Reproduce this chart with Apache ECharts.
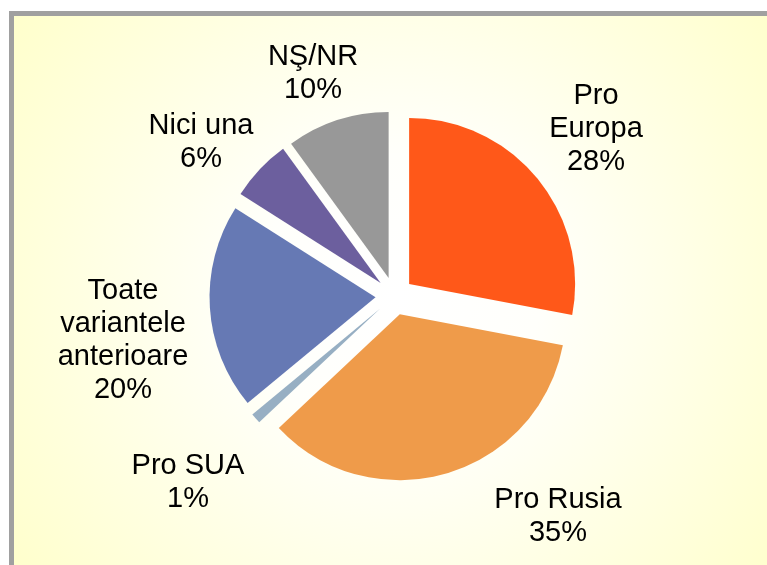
<!DOCTYPE html>
<html>
<head>
<meta charset="utf-8">
<script src="https://cdn.jsdelivr.net/npm/echarts@6/dist/echarts.min.js"></script>
<style>
  html, body { margin: 0; padding: 0; background: #fff; }
  #chart { width: 767px; height: 565px; }
</style>
</head>
<body>
<div id="chart"></div>
<script>
// categories and shares (%) in drawing order, clockwise from 12 o'clock
const categories = ['Pro\nEuropa', 'Pro Rusia', 'Pro SUA', 'Toate\nvariantele\nanterioare', 'Nici una', 'NŞ/NR'];
const shares = [28, 35, 1, 20, 6, 10];
const colors = ['#FF5819', '#EF9B4A', '#97AFC3', '#6679B4', '#6C5F9E', '#989898'];

// where each label block sits (centre, px)
const labelSpots = [[596, 129], [558, 516], [188, 482], [123, 340], [201, 142], [313, 73]];

const chart = echarts.init(document.getElementById('chart'));

// labels as text placed next to their slice
const labelTexts = categories.map((name, i) => ({
    type: 'text',
    silent: true,
    z: 10,
    style: {
        x: labelSpots[i][0],
        y: labelSpots[i][1],
        text: name + '\n' + shares[i] + '%',
        fill: '#000',
        font: '29px "Liberation Sans", Arial, sans-serif',
        lineHeight: 33,
        textAlign: 'center',
        textVerticalAlign: 'middle'
    }
}));

const option = {
    animation: false,
    backgroundColor: '#fff',
    graphic: [
        {
            type: 'rect',
            shape: { x: 9, y: 11, width: 780, height: 580 },
            style: { fill: '#A0A0A0' },
            silent: true,
            z: -10
        },
        {
            type: 'rect',
            shape: { x: 14, y: 16, width: 753, height: 549 },
            style: {
                fill: {
                    type: 'radial',
                    x: 0.51,
                    y: 0.51,
                    r: 0.86,
                    colorStops: [
                        { offset: 0, color: '#FFFFFF' },
                        { offset: 0.3, color: '#FFFFFB' },
                        { offset: 1, color: '#FFFFCC' }
                    ]
                }
            },
            silent: true,
            z: -9
        }
    ].concat(labelTexts),
    series: [
        {
            type: 'pie',
            center: [394.5, 296],
            radius: 166,
            startAngle: 90,
            clockwise: true,
            selectedMode: 'multiple',
            selectedOffset: 19,
            itemStyle: { borderWidth: 0 },
            emphasis: { disabled: true },
            label: { show: false },
            labelLine: { show: false },
            data: categories.map((name, i) => ({
                name: name,
                value: shares[i],
                selected: true,
                itemStyle: { color: colors[i] }
            }))
        }
    ]
};

chart.setOption(option);
</script>
</body>
</html>
